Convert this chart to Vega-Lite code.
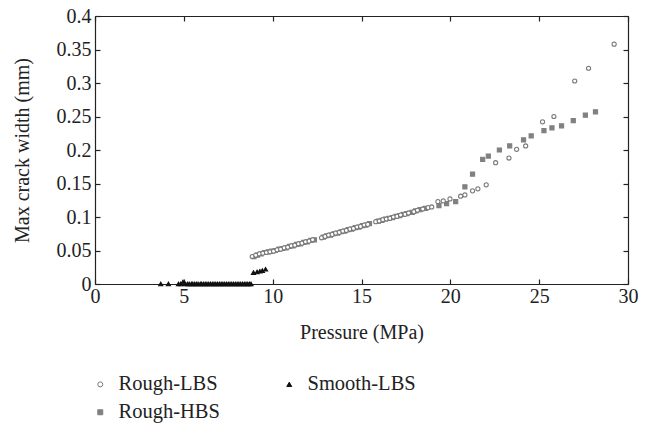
{
  "$schema": "https://vega.github.io/schema/vega-lite/v6.json",
  "width": 533,
  "height": 268,
  "autosize": {"type": "none"},
  "padding": {"left": 95, "top": 16, "right": 21, "bottom": 140},
  "background": "white",
  "config": {"view": {"stroke": null}, "font": "Liberation Serif"},
  "datasets": {
    "pts": [
      {"series": "Smooth-LBS", "pressure": 3.7, "width": 0},
      {"series": "Smooth-LBS", "pressure": 4.13, "width": 0},
      {"series": "Smooth-LBS", "pressure": 4.7, "width": 0},
      {"series": "Smooth-LBS", "pressure": 4.82, "width": 0},
      {"series": "Smooth-LBS", "pressure": 4.95, "width": 0.003},
      {"series": "Smooth-LBS", "pressure": 5.08, "width": 0},
      {"series": "Smooth-LBS", "pressure": 5.2, "width": 0},
      {"series": "Smooth-LBS", "pressure": 5.3, "width": 0},
      {"series": "Smooth-LBS", "pressure": 5.42, "width": 0},
      {"series": "Smooth-LBS", "pressure": 5.5, "width": 0},
      {"series": "Smooth-LBS", "pressure": 5.6, "width": 0},
      {"series": "Smooth-LBS", "pressure": 5.7, "width": 0},
      {"series": "Smooth-LBS", "pressure": 5.8, "width": 0},
      {"series": "Smooth-LBS", "pressure": 5.92, "width": 0},
      {"series": "Smooth-LBS", "pressure": 6.0, "width": 0},
      {"series": "Smooth-LBS", "pressure": 6.1, "width": 0},
      {"series": "Smooth-LBS", "pressure": 6.2, "width": 0},
      {"series": "Smooth-LBS", "pressure": 6.3, "width": 0},
      {"series": "Smooth-LBS", "pressure": 6.4, "width": 0},
      {"series": "Smooth-LBS", "pressure": 6.5, "width": 0},
      {"series": "Smooth-LBS", "pressure": 6.6, "width": 0},
      {"series": "Smooth-LBS", "pressure": 6.7, "width": 0},
      {"series": "Smooth-LBS", "pressure": 6.8, "width": 0},
      {"series": "Smooth-LBS", "pressure": 6.9, "width": 0},
      {"series": "Smooth-LBS", "pressure": 7.0, "width": 0},
      {"series": "Smooth-LBS", "pressure": 7.1, "width": 0},
      {"series": "Smooth-LBS", "pressure": 7.2, "width": 0},
      {"series": "Smooth-LBS", "pressure": 7.3, "width": 0},
      {"series": "Smooth-LBS", "pressure": 7.4, "width": 0},
      {"series": "Smooth-LBS", "pressure": 7.5, "width": 0},
      {"series": "Smooth-LBS", "pressure": 7.6, "width": 0},
      {"series": "Smooth-LBS", "pressure": 7.7, "width": 0},
      {"series": "Smooth-LBS", "pressure": 7.8, "width": 0},
      {"series": "Smooth-LBS", "pressure": 7.9, "width": 0},
      {"series": "Smooth-LBS", "pressure": 8.0, "width": 0},
      {"series": "Smooth-LBS", "pressure": 8.1, "width": 0},
      {"series": "Smooth-LBS", "pressure": 8.2, "width": 0},
      {"series": "Smooth-LBS", "pressure": 8.3, "width": 0},
      {"series": "Smooth-LBS", "pressure": 8.4, "width": 0},
      {"series": "Smooth-LBS", "pressure": 8.5, "width": 0},
      {"series": "Smooth-LBS", "pressure": 8.6, "width": 0},
      {"series": "Smooth-LBS", "pressure": 8.7, "width": 0},
      {"series": "Smooth-LBS", "pressure": 8.78, "width": 0},
      {"series": "Smooth-LBS", "pressure": 8.92, "width": 0.017},
      {"series": "Smooth-LBS", "pressure": 9.12, "width": 0.018},
      {"series": "Smooth-LBS", "pressure": 9.28, "width": 0.019},
      {"series": "Smooth-LBS", "pressure": 9.42, "width": 0.02},
      {"series": "Smooth-LBS", "pressure": 9.6, "width": 0.022},

      {"series": "Rough-HBS", "pressure": 8.95, "width": 0.041},
      {"series": "Rough-HBS", "pressure": 9.15, "width": 0.043},
      {"series": "Rough-HBS", "pressure": 9.35, "width": 0.045},
      {"series": "Rough-HBS", "pressure": 9.55, "width": 0.047},
      {"series": "Rough-HBS", "pressure": 9.75, "width": 0.048},
      {"series": "Rough-HBS", "pressure": 9.95, "width": 0.049},
      {"series": "Rough-HBS", "pressure": 10.15, "width": 0.05},
      {"series": "Rough-HBS", "pressure": 10.35, "width": 0.052},
      {"series": "Rough-HBS", "pressure": 10.55, "width": 0.053},
      {"series": "Rough-HBS", "pressure": 10.75, "width": 0.054},
      {"series": "Rough-HBS", "pressure": 10.95, "width": 0.056},
      {"series": "Rough-HBS", "pressure": 11.15, "width": 0.057},
      {"series": "Rough-HBS", "pressure": 11.35, "width": 0.059},
      {"series": "Rough-HBS", "pressure": 11.55, "width": 0.06},
      {"series": "Rough-HBS", "pressure": 11.75, "width": 0.062},
      {"series": "Rough-HBS", "pressure": 11.95, "width": 0.063},
      {"series": "Rough-HBS", "pressure": 12.15, "width": 0.065},
      {"series": "Rough-HBS", "pressure": 12.35, "width": 0.066},
      {"series": "Rough-HBS", "pressure": 12.85, "width": 0.07},
      {"series": "Rough-HBS", "pressure": 13.05, "width": 0.072},
      {"series": "Rough-HBS", "pressure": 13.25, "width": 0.073},
      {"series": "Rough-HBS", "pressure": 13.45, "width": 0.075},
      {"series": "Rough-HBS", "pressure": 13.65, "width": 0.076},
      {"series": "Rough-HBS", "pressure": 13.85, "width": 0.078},
      {"series": "Rough-HBS", "pressure": 14.05, "width": 0.079},
      {"series": "Rough-HBS", "pressure": 14.25, "width": 0.081},
      {"series": "Rough-HBS", "pressure": 14.45, "width": 0.082},
      {"series": "Rough-HBS", "pressure": 14.65, "width": 0.084},
      {"series": "Rough-HBS", "pressure": 14.85, "width": 0.085},
      {"series": "Rough-HBS", "pressure": 15.05, "width": 0.087},
      {"series": "Rough-HBS", "pressure": 15.25, "width": 0.088},
      {"series": "Rough-HBS", "pressure": 15.45, "width": 0.09},
      {"series": "Rough-HBS", "pressure": 15.95, "width": 0.094},
      {"series": "Rough-HBS", "pressure": 16.15, "width": 0.095},
      {"series": "Rough-HBS", "pressure": 16.35, "width": 0.097},
      {"series": "Rough-HBS", "pressure": 16.55, "width": 0.098},
      {"series": "Rough-HBS", "pressure": 16.75, "width": 0.099},
      {"series": "Rough-HBS", "pressure": 16.95, "width": 0.101},
      {"series": "Rough-HBS", "pressure": 17.15, "width": 0.102},
      {"series": "Rough-HBS", "pressure": 17.35, "width": 0.104},
      {"series": "Rough-HBS", "pressure": 17.55, "width": 0.105},
      {"series": "Rough-HBS", "pressure": 17.85, "width": 0.107},
      {"series": "Rough-HBS", "pressure": 18.05, "width": 0.109},
      {"series": "Rough-HBS", "pressure": 18.3, "width": 0.111},
      {"series": "Rough-HBS", "pressure": 18.6, "width": 0.113},
      {"series": "Rough-HBS", "pressure": 19.36, "width": 0.117},
      {"series": "Rough-HBS", "pressure": 19.79, "width": 0.12},
      {"series": "Rough-HBS", "pressure": 20.3, "width": 0.123},
      {"series": "Rough-HBS", "pressure": 20.82, "width": 0.145},
      {"series": "Rough-HBS", "pressure": 21.25, "width": 0.164},
      {"series": "Rough-HBS", "pressure": 21.82, "width": 0.186},
      {"series": "Rough-HBS", "pressure": 22.14, "width": 0.191},
      {"series": "Rough-HBS", "pressure": 22.76, "width": 0.2},
      {"series": "Rough-HBS", "pressure": 23.34, "width": 0.206},
      {"series": "Rough-HBS", "pressure": 24.12, "width": 0.215},
      {"series": "Rough-HBS", "pressure": 24.55, "width": 0.221},
      {"series": "Rough-HBS", "pressure": 25.27, "width": 0.229},
      {"series": "Rough-HBS", "pressure": 25.72, "width": 0.233},
      {"series": "Rough-HBS", "pressure": 26.26, "width": 0.236},
      {"series": "Rough-HBS", "pressure": 26.92, "width": 0.244},
      {"series": "Rough-HBS", "pressure": 27.6, "width": 0.252},
      {"series": "Rough-HBS", "pressure": 28.17, "width": 0.257},

      {"series": "Rough-LBS", "pressure": 8.85, "width": 0.041},
      {"series": "Rough-LBS", "pressure": 9.05, "width": 0.043},
      {"series": "Rough-LBS", "pressure": 9.25, "width": 0.045},
      {"series": "Rough-LBS", "pressure": 9.45, "width": 0.046},
      {"series": "Rough-LBS", "pressure": 9.65, "width": 0.047},
      {"series": "Rough-LBS", "pressure": 9.85, "width": 0.048},
      {"series": "Rough-LBS", "pressure": 10.05, "width": 0.049},
      {"series": "Rough-LBS", "pressure": 10.25, "width": 0.051},
      {"series": "Rough-LBS", "pressure": 10.45, "width": 0.052},
      {"series": "Rough-LBS", "pressure": 10.65, "width": 0.054},
      {"series": "Rough-LBS", "pressure": 10.85, "width": 0.055},
      {"series": "Rough-LBS", "pressure": 11.05, "width": 0.057},
      {"series": "Rough-LBS", "pressure": 11.25, "width": 0.058},
      {"series": "Rough-LBS", "pressure": 11.45, "width": 0.06},
      {"series": "Rough-LBS", "pressure": 11.65, "width": 0.061},
      {"series": "Rough-LBS", "pressure": 11.85, "width": 0.063},
      {"series": "Rough-LBS", "pressure": 12.05, "width": 0.064},
      {"series": "Rough-LBS", "pressure": 12.25, "width": 0.066},
      {"series": "Rough-LBS", "pressure": 12.75, "width": 0.069},
      {"series": "Rough-LBS", "pressure": 12.95, "width": 0.071},
      {"series": "Rough-LBS", "pressure": 13.15, "width": 0.073},
      {"series": "Rough-LBS", "pressure": 13.35, "width": 0.074},
      {"series": "Rough-LBS", "pressure": 13.55, "width": 0.076},
      {"series": "Rough-LBS", "pressure": 13.75, "width": 0.077},
      {"series": "Rough-LBS", "pressure": 13.95, "width": 0.079},
      {"series": "Rough-LBS", "pressure": 14.15, "width": 0.08},
      {"series": "Rough-LBS", "pressure": 14.35, "width": 0.082},
      {"series": "Rough-LBS", "pressure": 14.55, "width": 0.083},
      {"series": "Rough-LBS", "pressure": 14.75, "width": 0.085},
      {"series": "Rough-LBS", "pressure": 14.95, "width": 0.086},
      {"series": "Rough-LBS", "pressure": 15.15, "width": 0.088},
      {"series": "Rough-LBS", "pressure": 15.35, "width": 0.089},
      {"series": "Rough-LBS", "pressure": 15.8, "width": 0.093},
      {"series": "Rough-LBS", "pressure": 16.0, "width": 0.094},
      {"series": "Rough-LBS", "pressure": 16.2, "width": 0.096},
      {"series": "Rough-LBS", "pressure": 16.4, "width": 0.097},
      {"series": "Rough-LBS", "pressure": 16.6, "width": 0.098},
      {"series": "Rough-LBS", "pressure": 16.8, "width": 0.1},
      {"series": "Rough-LBS", "pressure": 17.0, "width": 0.101},
      {"series": "Rough-LBS", "pressure": 17.2, "width": 0.103},
      {"series": "Rough-LBS", "pressure": 17.45, "width": 0.104},
      {"series": "Rough-LBS", "pressure": 17.65, "width": 0.106},
      {"series": "Rough-LBS", "pressure": 17.95, "width": 0.108},
      {"series": "Rough-LBS", "pressure": 18.15, "width": 0.11},
      {"series": "Rough-LBS", "pressure": 18.45, "width": 0.112},
      {"series": "Rough-LBS", "pressure": 18.75, "width": 0.114},
      {"series": "Rough-LBS", "pressure": 18.95, "width": 0.115},
      {"series": "Rough-LBS", "pressure": 19.3, "width": 0.123},
      {"series": "Rough-LBS", "pressure": 19.6, "width": 0.124},
      {"series": "Rough-LBS", "pressure": 19.98, "width": 0.127},
      {"series": "Rough-LBS", "pressure": 20.58, "width": 0.131},
      {"series": "Rough-LBS", "pressure": 20.82, "width": 0.133},
      {"series": "Rough-LBS", "pressure": 21.25, "width": 0.139},
      {"series": "Rough-LBS", "pressure": 21.55, "width": 0.142},
      {"series": "Rough-LBS", "pressure": 22.02, "width": 0.148},
      {"series": "Rough-LBS", "pressure": 22.55, "width": 0.181},
      {"series": "Rough-LBS", "pressure": 23.3, "width": 0.188},
      {"series": "Rough-LBS", "pressure": 23.73, "width": 0.201},
      {"series": "Rough-LBS", "pressure": 24.24, "width": 0.206},
      {"series": "Rough-LBS", "pressure": 25.19, "width": 0.242},
      {"series": "Rough-LBS", "pressure": 25.83, "width": 0.25},
      {"series": "Rough-LBS", "pressure": 27.0, "width": 0.303},
      {"series": "Rough-LBS", "pressure": 27.78, "width": 0.322},
      {"series": "Rough-LBS", "pressure": 29.22, "width": 0.358}
    ]
  },
  "data": {"name": "pts"},
  "layer": [
    {
      "mark": {"type": "point", "size": 17, "strokeWidth": 1.1, "opacity": 1},
      "encoding": {
        "x": {
          "field": "pressure", "type": "quantitative",
          "scale": {"domain": [0, 30], "nice": false},
          "axis": {
            "title": "Pressure (MPa)", "values": [0, 5, 10, 15, 20, 25, 30],
            "grid": false, "domainColor": "#222", "domainWidth": 1.2,
            "tickColor": "#222", "tickSize": -5, "tickWidth": 1.2,
            "labelFont": "Liberation Serif", "labelFontSize": 20, "labelColor": "#222",
            "labelPadding": 7, "labelFlush": false,
            "titleFont": "Liberation Serif", "titleFontSize": 20, "titleFontWeight": "normal",
            "titleColor": "#222", "titlePadding": 16
          }
        },
        "y": {
          "field": "width", "type": "quantitative",
          "scale": {"domain": [0, 0.4], "nice": false},
          "axis": {
            "title": "Max crack width (mm)",
            "values": [0, 0.05, 0.1, 0.15, 0.2, 0.25, 0.3, 0.35, 0.4],
            "format": "~g",
            "grid": false, "domainColor": "#222", "domainWidth": 1.2,
            "tickColor": "#222", "tickSize": -5, "tickWidth": 1.2,
            "labelFont": "Liberation Serif", "labelFontSize": 20, "labelColor": "#222",
            "labelPadding": 9, "labelFlush": false,
            "titleFont": "Liberation Serif", "titleFontSize": 20, "titleFontWeight": "normal",
            "titleColor": "#222", "titlePadding": 24
          }
        },
        "shape": {
          "field": "series", "type": "nominal",
          "scale": {"domain": ["Rough-LBS", "Smooth-LBS", "Rough-HBS"], "range": ["circle", "triangle-up", "square"]},
          "legend": {"orient": "none", "legendX": -5, "legendY": 358, "columns": 2, "title": null,
            "values": ["Rough-LBS", "Rough-HBS", "Smooth-LBS"],
            "labelFont": "Liberation Serif", "labelFontSize": 20.5, "labelColor": "#222",
            "labelOffset": 8, "rowPadding": 7, "columnPadding": 59, "symbolSize": 25, "symbolStrokeWidth": 1}
        },
        "fill": {
          "field": "series", "type": "nominal",
          "scale": {"domain": ["Rough-LBS", "Smooth-LBS", "Rough-HBS"], "range": ["#ffffff", "#111111", "#808080"]},
          "legend": {"orient": "none", "legendX": -5, "legendY": 358, "columns": 2, "title": null,
            "values": ["Rough-LBS", "Rough-HBS", "Smooth-LBS"],
            "labelFont": "Liberation Serif", "labelFontSize": 20.5, "labelColor": "#222",
            "labelOffset": 8, "rowPadding": 7, "columnPadding": 59, "symbolSize": 25, "symbolStrokeWidth": 1}
        },
        "stroke": {
          "field": "series", "type": "nominal",
          "scale": {"domain": ["Rough-LBS", "Smooth-LBS", "Rough-HBS"], "range": ["#7a7a7a", "#111111", "#808080"]},
          "legend": {"orient": "none", "legendX": -5, "legendY": 358, "columns": 2, "title": null,
            "values": ["Rough-LBS", "Rough-HBS", "Smooth-LBS"],
            "labelFont": "Liberation Serif", "labelFontSize": 20.5, "labelColor": "#222",
            "labelOffset": 8, "rowPadding": 7, "columnPadding": 59, "symbolSize": 25, "symbolStrokeWidth": 1}
        }
      }
    },
    {
      "mark": {"type": "point", "opacity": 0},
      "encoding": {
        "x": {
          "field": "pressure", "type": "quantitative",
          "axis": {"orient": "top", "title": null, "labels": false, "values": [0, 5, 10, 15, 20, 25, 30],
            "grid": false, "domainColor": "#222", "domainWidth": 1.2,
            "tickColor": "#222", "tickSize": -5, "tickWidth": 1.2}
        },
        "y": {
          "field": "width", "type": "quantitative",
          "axis": {"orient": "right", "title": null, "labels": false,
            "values": [0, 0.05, 0.1, 0.15, 0.2, 0.25, 0.3, 0.35, 0.4],
            "grid": false, "domainColor": "#222", "domainWidth": 1.2,
            "tickColor": "#222", "tickSize": -5, "tickWidth": 1.2}
        }
      }
    }
  ],
  "resolve": {"axis": {"x": "independent", "y": "independent"}}
}
